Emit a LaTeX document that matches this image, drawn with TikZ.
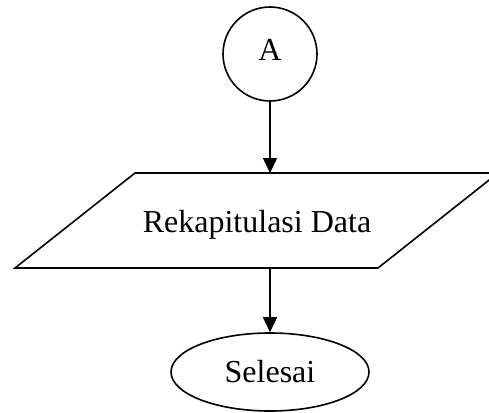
\documentclass[tikz,border=0pt]{standalone}
\usepackage{fontspec}
\setmainfont{Liberation Serif}
\usetikzlibrary{shapes.geometric,arrows.meta}

\begin{document}
\begin{tikzpicture}[x=1pt,y=1pt,line width=1.6pt,>={Triangle[length=15pt,width=14pt]},font=\fontsize{32}{38}\selectfont]
\useasboundingbox (0,0) rectangle (489,-412);
\clip (0,0) rectangle (489,-412);

\begin{scope}[every node/.style={draw,circle,minimum size=94pt,inner sep=0pt,text depth=8pt}]
\node (A) at (270,-54) {A};
\end{scope}

% input/output box
\draw (15,-268) -- (135,-173) -- (498,-173) -- (378,-268) -- cycle;
\node[anchor=base] (rekap) at (257,-232) {Rekapitulasi Data};
\coordinate (rekapIn) at (270,-173);
\coordinate (rekapOut) at (270,-268);

\begin{scope}[every node/.style={draw,ellipse,minimum width=198pt,minimum height=78pt,inner sep=0pt}]
\node (selesai) at (270,-372) {Selesai};
\end{scope}

\draw[->] (A) -- (rekapIn);
\draw[->] (rekapOut) -- (selesai);
\end{tikzpicture}
\end{document}
